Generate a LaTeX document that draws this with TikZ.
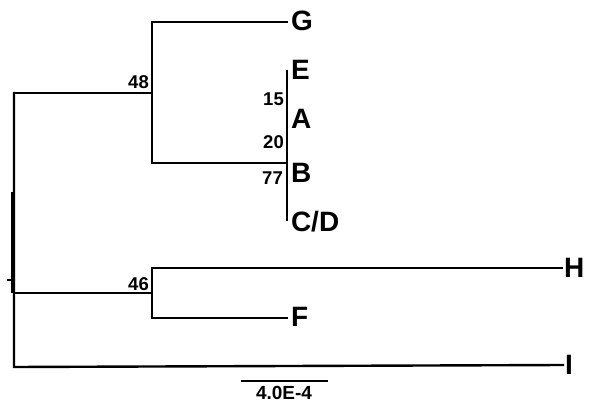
\documentclass[tikz,border=0pt]{standalone}
\usepackage{fontspec}
\setmainfont{Liberation Sans}
\begin{document}
\begin{tikzpicture}[x=1pt,y=-1pt,
  branch/.style={draw=black,line width=2.4pt,line cap=rect,line join=miter},
  taxon/.style={anchor=west,inner sep=0pt,outer sep=0pt,font=\fontsize{28}{28}\selectfont\bfseries},
  support/.style={anchor=east,inner sep=0pt,font=\fontsize{18.5}{18.5}\selectfont\bfseries},
  scalelabel/.style={inner sep=0pt,font=\fontsize{19}{19}\selectfont\bfseries}]
\useasboundingbox (0,0) rectangle (594,406);
% internal nodes
\coordinate (rt) at (14,93);
\coordinate (rb) at (14,367);
\coordinate (r46) at (14,293);
\coordinate (n48) at (152,93);
\coordinate (n48t) at (152,22);
\coordinate (n48b) at (152,163);
\coordinate (nB) at (287,163);
\coordinate (cT) at (287,71);
\coordinate (cB) at (287,220);
\coordinate (n46) at (152,293);
\coordinate (n46t) at (152,268);
\coordinate (n46b) at (152,318);
% tips
\node[taxon] (G) at (291,21) {G};
\node[taxon] (E) at (291,70) {E};
\node[taxon] (A) at (291,119) {A};
\node[taxon] (B) at (291,173) {B};
\node[taxon] (CD) at (291,222) {C/D};
\node[taxon] (H) at (564,268) {H};
\node[taxon] (F) at (291,317) {F};
\node[taxon] (I) at (565,365) {I};
% support values
\node[support] (s48) at (149,82) {48};
\node[support] (s15) at (284,99) {15};
\node[support] (s20) at (284,142) {20};
\node[support] (s77) at (283,178) {77};
\node[support] (s46) at (149,284) {46};
% branches
\draw[branch] (rt) -- (rb) -- ([xshift=-2pt]I.west);
\draw[branch] (rt) -- (n48);
\draw[branch] ([xshift=-4pt]G.west |- n48t) -- (n48t) -- (n48b) -- (nB);
\draw[branch] (cT) -- (cB);
\draw[branch] (r46) -- (n46);
\draw[branch] ([xshift=-2pt]H.west |- n46t) -- (n46t) -- (n46b) -- ([xshift=-4pt]F.west |- n46b);
% root marks
\coordinate (rk1) at (13,192);
\coordinate (rk2) at (13,293);
\draw[line width=4pt] (rk1) -- (rk2);
\coordinate (tk1) at (7,280);
\coordinate (tk2) at (13,280);
\draw[line width=2pt] (tk1) -- (tk2);
% scale bar
\coordinate (sb1) at (241,381);
\coordinate (sb2) at (328,381);
\draw[line width=2pt] (sb1) -- (sb2);
\node[scalelabel] (sbl) at (284,393) {4.0E-4};
\end{tikzpicture}
\end{document}
